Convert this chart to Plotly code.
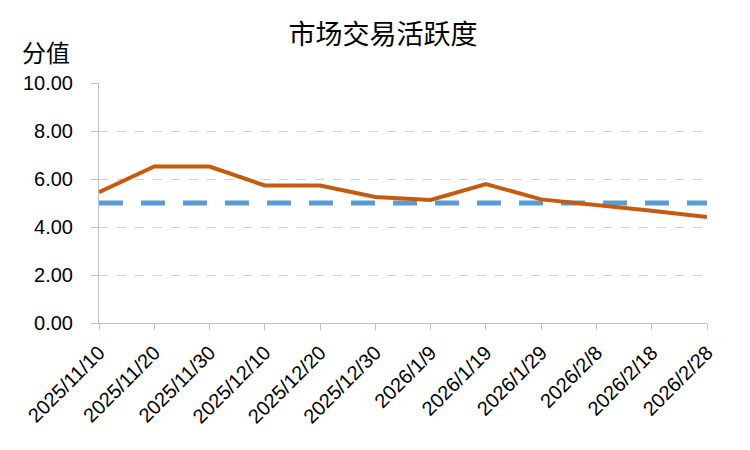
import plotly.graph_objects as go

dates = ["2025/11/10", "2025/11/20", "2025/11/30", "2025/12/10", "2025/12/20", "2025/12/30",
         "2026/1/9", "2026/1/19", "2026/1/29", "2026/2/8", "2026/2/18", "2026/2/28"]
activity = [5.45, 6.52, 6.52, 5.73, 5.73, 5.25, 5.13, 5.79, 5.15, 4.93, 4.68, 4.42]
baseline = [5.0] * len(dates)
y_ticks = [0, 2, 4, 6, 8, 10]

fig = go.Figure()
fig.add_trace(go.Scatter(x=dates, y=baseline, mode="lines",
                         line=dict(color="#5B9BD5", width=5, dash="24px,18px"),
                         showlegend=False, hoverinfo="skip"))
fig.add_trace(go.Scatter(x=dates, y=activity, mode="lines",
                         line=dict(color="#C55A11", width=4),
                         showlegend=False))

fig.update_layout(
    width=750, height=450,
    margin=dict(l=91, r=51, t=75, b=135),
    paper_bgcolor="white", plot_bgcolor="white",
    title=dict(text="市场交易活跃度", x=0.5, xanchor="center", xref="container",
               y=1 - 27 / 450, yanchor="middle",
               font=dict(family="Noto Sans CJK SC", size=27, color="#000000")),
    font=dict(family="Liberation Sans", color="#000000"),
    annotations=[dict(text="分值", xref="paper", yref="paper", x=-0.045, y=1.0,
                      xanchor="right", yanchor="bottom", yshift=12, showarrow=False,
                      font=dict(family="Noto Sans CJK SC", size=24, color="#000000"))],
)
fig.update_xaxes(type="category", range=[0, len(dates) - 1],
                 showline=True, linecolor="#BFBFBF", linewidth=1,
                 ticks="outside", tickcolor="#BFBFBF", ticklen=6,
                 showgrid=False, tickangle=-45, ticklabelstandoff=3,
                 tickfont=dict(family="Liberation Sans", size=20, color="#000000"))
fig.update_yaxes(range=[0, 10], tickvals=y_ticks, tickformat=".2f",
                 showline=True, linecolor="#BFBFBF", linewidth=1,
                 ticks="outside", tickcolor="#BFBFBF", ticklen=7,
                 showgrid=True, gridcolor="#D0D0D0", griddash="dash", gridwidth=1,
                 zeroline=False, ticklabelstandoff=14,
                 tickfont=dict(family="Liberation Sans", size=20, color="#000000"))

fig.write_html("out.html")
